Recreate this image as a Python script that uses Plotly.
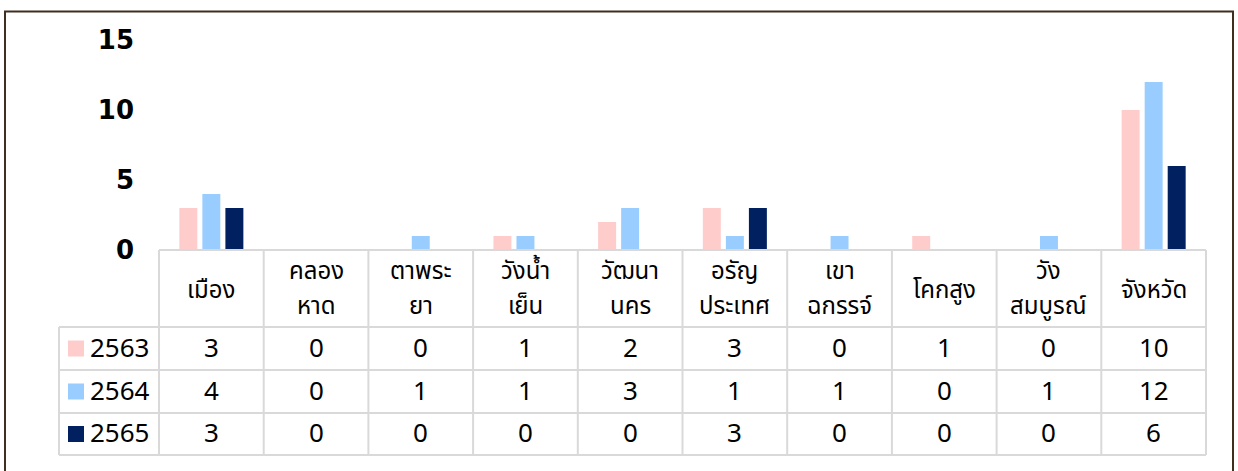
import plotly.graph_objects as go

categories = ["เมือง", "คลองหาด", "ตาพระยา", "วังน้ำเย็น", "วัฒนานคร",
              "อรัญประเทศ", "เขาฉกรรจ์", "โคกสูง", "วังสมบูรณ์", "จังหวัด"]
header_lines = [["เมือง"], ["คลอง", "หาด"], ["ตาพระ", "ยา"], ["วังน้ำ", "เย็น"], ["วัฒนา", "นคร"],
                ["อรัญ", "ประเทศ"], ["เขา", "ฉกรรจ์"], ["โคกสูง"], ["วัง", "สมบูรณ์"], ["จังหวัด"]]
series_names = ["2563", "2564", "2565"]
v2563 = [3, 0, 0, 1, 2, 3, 0, 1, 0, 10]
v2564 = [4, 0, 1, 1, 3, 1, 1, 0, 1, 12]
v2565 = [3, 0, 0, 0, 0, 3, 0, 0, 0, 6]
series_values = [v2563, v2564, v2565]
colors = ["#FFCCCC", "#99CCFF", "#002060"]
y_ticks = [0, 5, 10, 15]

W, H = 1238, 471
L, R, T, B = 159, 1206, 40, 250  # plot area in pixels

THAI = "Tahoma, 'Noto Sans Thai', 'Noto Sans Thai UI', 'Noto Sans', sans-serif"


def xd(px):
    return (px - L) / (R - L)


def yp(py):
    return (B - py) / (B - T)


fig = go.Figure()
for name, vals, col in zip(series_names, series_values, colors):
    fig.add_trace(go.Bar(x=categories, y=vals, name=name, marker_color=col,
                         marker_line_width=0, showlegend=False, hoverinfo="x+y+name"))

shapes = []
annotations = []
grid = dict(color="#D9D9D9", width=2)
n = len(categories)

row_lines = [327, 370, 413, 455]
shapes.append(dict(type="line", xref="x domain", yref="paper", x0=0, x1=1,
                   y0=yp(250), y1=yp(250), line=grid, layer="above"))
for ry in row_lines:
    shapes.append(dict(type="line", xref="x domain", yref="paper", x0=xd(59), x1=1,
                       y0=yp(ry), y1=yp(ry), line=grid))
for i in range(n + 1):
    shapes.append(dict(type="line", xref="x domain", yref="paper", x0=i / n, x1=i / n,
                       y0=yp(250), y1=yp(455), line=grid))
shapes.append(dict(type="line", xref="x domain", yref="paper", x0=xd(59), x1=xd(59),
                   y0=yp(327), y1=yp(455), line=grid))

# outer border
shapes.append(dict(type="rect", xref="x domain", yref="paper", x0=xd(5), x1=xd(1233),
                   y0=yp(490), y1=yp(11.5), line=dict(color="#3F2F1E", width=2)))

# header labels
for cat, lines in zip(categories, header_lines):
    ys = [291] if len(lines) == 1 else [272, 307]
    for txt, ty in zip(lines, ys):
        annotations.append(dict(x=cat, xref="x", y=yp(ty), yref="paper", text=txt,
                                showarrow=False, xanchor="center", yanchor="middle",
                                font=dict(family=THAI, size=24, color="#000000")))

row_centers = [348.5, 391.5, 434]
for name, vals, col, rc in zip(series_names, series_values, colors, row_centers):
    shapes.append(dict(type="rect", xref="x domain", yref="paper", x0=xd(68), x1=xd(84),
                       y0=yp(rc + 8), y1=yp(rc - 8), fillcolor=col, line=dict(width=0)))
    annotations.append(dict(x=xd(88), xref="x domain", y=yp(rc), yref="paper", text=name,
                            showarrow=False, xanchor="left", yanchor="middle",
                            font=dict(family=THAI, size=26, color="#000000")))
    for cat, v in zip(categories, vals):
        annotations.append(dict(x=cat, xref="x", y=yp(rc), yref="paper", text=str(v),
                                showarrow=False, xanchor="center", yanchor="middle",
                                font=dict(family=THAI, size=26, color="#000000")))

fig.update_layout(
    width=W, height=H,
    margin=dict(l=L, r=W - R, t=T, b=H - B, pad=0),
    paper_bgcolor="white", plot_bgcolor="white",
    barmode="group", bargap=0.34, bargroupgap=0.22,
    xaxis=dict(range=[-0.5, n - 0.5], showticklabels=False, showgrid=False,
               zeroline=False, showline=False, ticks=""),
    yaxis=dict(range=[0, 15], tickvals=y_ticks, showgrid=False, zeroline=False,
               showline=False, ticks="", ticklabelstandoff=24,
               tickfont=dict(family="Tahoma, 'DejaVu Sans', sans-serif", size=26,
                             color="#000000", weight="bold")),
    shapes=shapes, annotations=annotations,
)

fig.write_html("out.html", config={"displayModeBar": False},
               post_script="document.body.style.margin='0';document.body.style.overflow='hidden';")
